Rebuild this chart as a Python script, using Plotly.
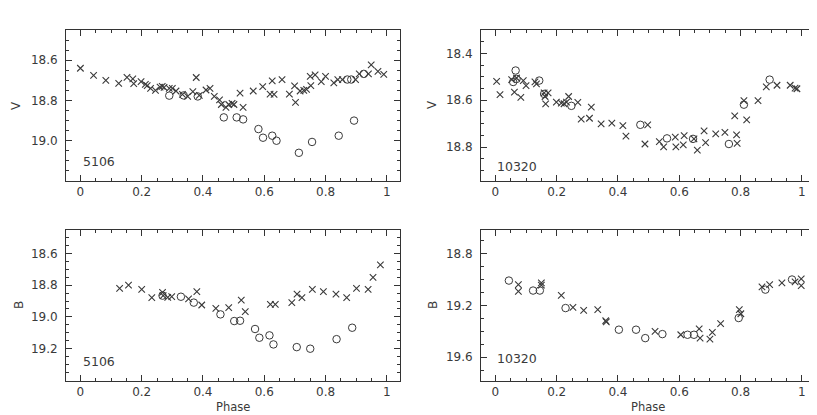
import plotly.graph_objects as go

# ---------------- data ----------------
# Star 5106, V band
v5106_cross_phase = [0.000, 0.043, 0.083, 0.125, 0.152, 0.171, 0.174, 0.198, 0.212, 0.218, 0.229, 0.245,
                     0.260, 0.267, 0.273, 0.290, 0.300, 0.312, 0.333, 0.350, 0.367, 0.378, 0.388, 0.410,
                     0.423, 0.437, 0.454, 0.460, 0.475, 0.484, 0.495, 0.501, 0.521, 0.531, 0.564, 0.595,
                     0.619, 0.626, 0.632, 0.658, 0.682, 0.699, 0.702, 0.717, 0.729, 0.738, 0.750, 0.752,
                     0.766, 0.786, 0.800, 0.827, 0.840, 0.855, 0.898, 0.910, 0.940, 0.949, 0.971, 0.990]
v5106_cross_mag = [18.640, 18.675, 18.700, 18.715, 18.685, 18.693, 18.716, 18.706, 18.720, 18.726, 18.740, 18.750,
                   18.734, 18.730, 18.735, 18.740, 18.740, 18.753, 18.770, 18.780, 18.756, 18.686, 18.775, 18.748,
                   18.740, 18.780, 18.797, 18.820, 18.834, 18.820, 18.814, 18.820, 18.764, 18.834, 18.753, 18.731,
                   18.768, 18.703, 18.770, 18.696, 18.768, 18.728, 18.810, 18.753, 18.750, 18.745, 18.680, 18.726,
                   18.673, 18.706, 18.680, 18.713, 18.696, 18.696, 18.696, 18.668, 18.668, 18.623, 18.656, 18.670]
v5106_circle_phase = [0.290, 0.337, 0.383, 0.468, 0.510, 0.531, 0.581, 0.596, 0.626, 0.640, 0.713, 0.756,
                      0.843, 0.893, 0.871, 0.884, 0.925]
v5106_circle_mag = [18.776, 18.775, 18.780, 18.884, 18.884, 18.894, 18.942, 18.985, 18.975, 19.000, 19.060, 19.006,
                    18.975, 18.900, 18.696, 18.696, 18.668]

# Star 10320, V band
v10320_cross_phase = [0.004, 0.015, 0.053, 0.062, 0.069, 0.083, 0.091, 0.100, 0.129, 0.134, 0.159, 0.162,
                      0.164, 0.172, 0.199, 0.215, 0.224, 0.232, 0.239, 0.269, 0.280, 0.307, 0.313, 0.345,
                      0.380, 0.416, 0.426, 0.497, 0.488, 0.535, 0.549, 0.587, 0.589, 0.616, 0.613, 0.648,
                      0.659, 0.681, 0.686, 0.719, 0.749, 0.787, 0.789, 0.781, 0.811, 0.820, 0.857, 0.884,
                      0.919, 0.962, 0.978, 0.984]
v10320_cross_mag = [18.519, 18.576, 18.512, 18.565, 18.505, 18.588, 18.516, 18.538, 18.522, 18.530, 18.569, 18.584,
                    18.616, 18.569, 18.608, 18.612, 18.615, 18.608, 18.584, 18.609, 18.681, 18.677, 18.629, 18.701,
                    18.698, 18.708, 18.753, 18.705, 18.787, 18.777, 18.799, 18.758, 18.799, 18.751, 18.791, 18.765,
                    18.813, 18.731, 18.781, 18.744, 18.737, 18.748, 18.784, 18.667, 18.602, 18.684, 18.602, 18.543,
                    18.536, 18.536, 18.548, 18.551]
v10320_circle_phase = [0.066, 0.058, 0.069, 0.143, 0.159, 0.248, 0.473, 0.560, 0.645, 0.762, 0.811, 0.895]
v10320_circle_mag = [18.473, 18.522, 18.509, 18.516, 18.573, 18.624, 18.705, 18.763, 18.765, 18.787, 18.619, 18.512]

# Star 5106, B band
b5106_cross_phase = [0.128, 0.157, 0.200, 0.233, 0.268, 0.270, 0.285, 0.298, 0.353, 0.380, 0.396, 0.442,
                     0.484, 0.525, 0.538, 0.620, 0.636, 0.690, 0.707, 0.723, 0.757, 0.793, 0.834, 0.869,
                     0.901, 0.939, 0.955, 0.979]
b5106_cross_mag = [18.820, 18.800, 18.827, 18.879, 18.845, 18.866, 18.877, 18.873, 18.887, 18.841, 18.925, 18.946,
                   18.942, 18.894, 18.967, 18.921, 18.921, 18.910, 18.856, 18.879, 18.827, 18.841, 18.856, 18.879,
                   18.820, 18.827, 18.751, 18.673]
b5106_circle_phase = [0.268, 0.328, 0.370, 0.457, 0.502, 0.521, 0.570, 0.584, 0.617, 0.630, 0.706, 0.750,
                      0.836, 0.887]
b5106_circle_mag = [18.866, 18.873, 18.910, 18.984, 19.026, 19.024, 19.076, 19.131, 19.116, 19.173, 19.190, 19.200,
                    19.140, 19.068]

# Star 10320, B band
b10320_cross_phase = [0.075, 0.075, 0.150, 0.150, 0.215, 0.253, 0.288, 0.334, 0.360, 0.362, 0.521, 0.605,
                      0.665, 0.668, 0.700, 0.708, 0.735, 0.796, 0.801, 0.870, 0.895, 0.935, 0.978, 0.998,
                      0.998]
b10320_cross_mag = [19.040, 19.092, 19.027, 19.045, 19.123, 19.215, 19.239, 19.234, 19.319, 19.328, 19.401, 19.427,
                    19.381, 19.453, 19.461, 19.409, 19.342, 19.234, 19.265, 19.058, 19.040, 19.027, 19.019, 18.996,
                    19.048]
b10320_circle_phase = [0.044, 0.123, 0.145, 0.229, 0.403, 0.459, 0.489, 0.545, 0.627, 0.648, 0.794, 0.881, 0.968]
b10320_circle_mag = [19.009, 19.086, 19.086, 19.221, 19.388, 19.388, 19.453, 19.422, 19.427, 19.427, 19.298, 19.079,
                     19.001]

x_tickvals = [0, 0.2, 0.4, 0.6, 0.8, 1]
x_ticktext = ["0", "0.2", "0.4", "0.6", "0.8", "1"]
y_ticks_v5106 = [18.6, 18.8, 19.0]
y_ticks_v10320 = [18.4, 18.6, 18.8]
y_ticks_b5106 = [18.6, 18.8, 19.0, 19.2]
y_ticks_b10320 = [18.8, 19.2, 19.6]

# ---------------- figure ----------------
INK = "#3a3a3a"
AX = "#333333"
FONT = "DejaVu Sans"

fig = go.Figure()

panels = [
    ("x", "y", v5106_cross_phase, v5106_cross_mag, v5106_circle_phase, v5106_circle_mag),
    ("x2", "y2", v10320_cross_phase, v10320_cross_mag, v10320_circle_phase, v10320_circle_mag),
    ("x3", "y3", b5106_cross_phase, b5106_cross_mag, b5106_circle_phase, b5106_circle_mag),
    ("x4", "y4", b10320_cross_phase, b10320_cross_mag, b10320_circle_phase, b10320_circle_mag),
]
for xa, ya, cx, cy, ox, oy in panels:
    fig.add_trace(go.Scatter(x=cx, y=cy, mode="markers", xaxis=xa, yaxis=ya, showlegend=False,
                             marker=dict(symbol="x-thin", size=6.5, line=dict(width=1.1, color=INK))))
    fig.add_trace(go.Scatter(x=ox, y=oy, mode="markers", xaxis=xa, yaxis=ya, showlegend=False,
                             marker=dict(symbol="circle-open", size=7.5, color=INK, line=dict(width=1, color=INK))))

W, H = 817, 415
left_dom = [58 / W, 392 / W]
right_dom = [473 / W, 807 / W]
top_dom = [1 - 173 / H, 1 - 22 / H]
bot_dom = [1 - 372.5 / H, 1 - 221.5 / H]


def base_axis():
    return dict(showline=True, linecolor=AX, linewidth=1, mirror="allticks",
                ticks="inside", ticklen=6, tickcolor=AX, tickwidth=1,
                showgrid=False, zeroline=False,
                tickfont=dict(family=FONT, size=12, color=INK))


def xaxis(dom, anchor):
    d = base_axis()
    d.update(domain=dom, anchor=anchor, range=[-0.047, 1.043],
             tickmode="array", tickvals=x_tickvals, ticktext=x_ticktext,
             minor=dict(tickmode="linear", dtick=0.05, tick0=0, ticks="inside", ticklen=3,
                        tickcolor=AX, tickwidth=1, showgrid=False))
    return d


def yaxis(dom, anchor, rng, tvals, mdtick):
    d = base_axis()
    d.update(domain=dom, anchor=anchor, range=rng,
             tickmode="array", tickvals=tvals, ticktext=["%.1f" % v for v in tvals],
             ticklabelstandoff=5,
             minor=dict(tickmode="linear", dtick=mdtick, tick0=0, ticks="inside", ticklen=3,
                        tickcolor=AX, tickwidth=1, showgrid=False))
    return d


fig.update_layout(
    width=W, height=H, margin=dict(l=0, r=0, t=0, b=0),
    paper_bgcolor="white", plot_bgcolor="white",
    font=dict(family=FONT, size=12, color=INK),
    xaxis=xaxis(left_dom, "y"),
    yaxis=yaxis(top_dom, "x", [19.2, 18.45], y_ticks_v5106, 0.05),
    xaxis2=xaxis(right_dom, "y2"),
    yaxis2=yaxis(top_dom, "x2", [18.945, 18.3], y_ticks_v10320, 0.05),
    xaxis3=xaxis(left_dom, "y3"),
    yaxis3=yaxis(bot_dom, "x3", [19.4, 18.45], y_ticks_b5106, 0.05),
    xaxis4=xaxis(right_dom, "y4"),
    yaxis4=yaxis(bot_dom, "x4", [19.78, 18.615], y_ticks_b10320, 0.1),
)

annots = [
    dict(text="5106", xref="x domain", yref="y domain", x=0.045, y=0.126),
    dict(text="10320", xref="x2 domain", yref="y2 domain", x=0.043, y=0.097),
    dict(text="5106", xref="x3 domain", yref="y3 domain", x=0.045, y=0.128),
    dict(text="10320", xref="x4 domain", yref="y4 domain", x=0.043, y=0.148),
]
for a in annots:
    fig.add_annotation(showarrow=False, xanchor="left", yanchor="middle",
                       font=dict(family=FONT, size=12.5, color=INK), **a)

for txt, x, y in [("V", 8 / W, 1 - 97 / H), ("B", 11 / W, 1 - 297 / H),
                  ("V", 424 / W, 1 - 97 / H), ("B", 425 / W, 1 - 297 / H)]:
    fig.add_annotation(text=txt, xref="paper", yref="paper", x=x, y=y, showarrow=False,
                       textangle=-90, xanchor="center", yanchor="middle",
                       font=dict(family=FONT, size=12, color=INK))
for x in [225 / W, 640 / W]:
    fig.add_annotation(text="Phase", xref="paper", yref="paper", x=x, y=1 - 399 / H, showarrow=False,
                       xanchor="center", yanchor="middle", borderpad=0,
                       font=dict(family=FONT, size=11.5, color=INK))

fig.write_html("out.html")
